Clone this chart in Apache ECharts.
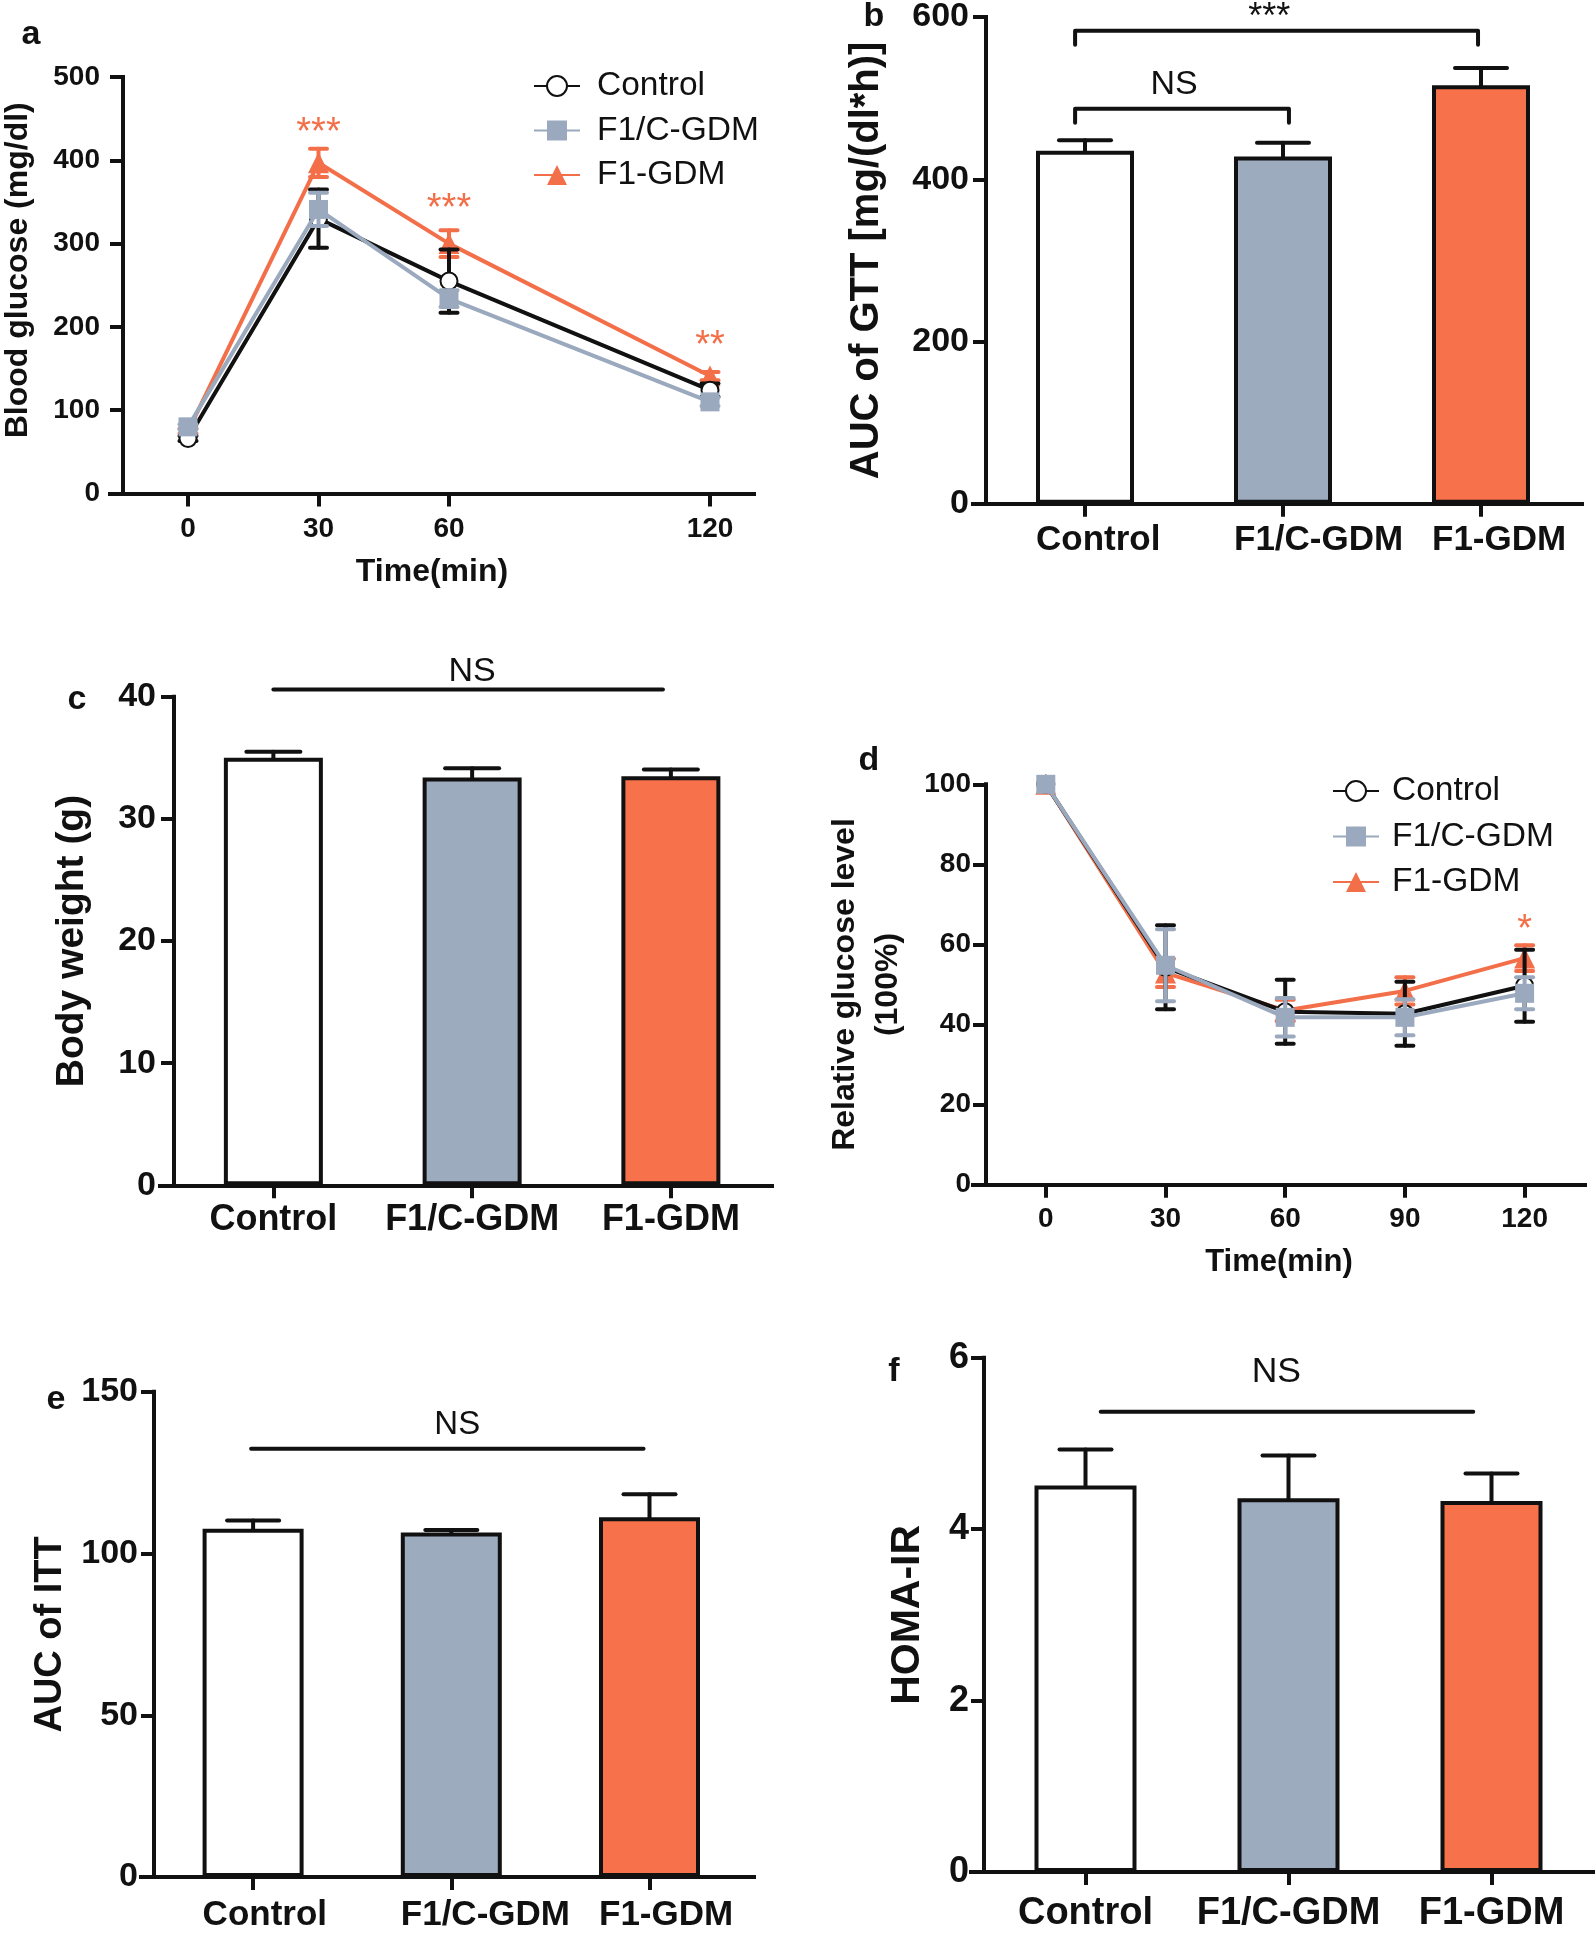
<!DOCTYPE html>
<html><head><meta charset="utf-8">
<script src="https://cdn.jsdelivr.net/npm/echarts@6/dist/echarts.min.js"></script>
<style>html,body{margin:0;padding:0;background:#fff}#c{width:1595px;height:1933px}</style>
</head><body><div id="c"></div>
<script>
// ================= DATA =================
const groupNames = ['Control', 'F1/C-GDM', 'F1-GDM'];
const catNames = ['Control', 'F1/C-GDM', 'F1-GDM'];

// (a) GTT
const gttTime = [0, 30, 60, 120];
const gttControl = [66, 330, 255, 124];
const gttControlErr = [3, 35, 38, 8];
const gttF1C = [80, 341, 234, 110];
const gttF1CErr = [3, 20, 10, 5];
const gttF1 = [75, 397, 300, 141];
const gttF1Err = [3, 17, 16, 5];
const gttSigTime = [30, 60, 120];
const gttSigLabel = ['***', '***', '**'];
const gttSigY = [442, 350, 186];

// (b) AUC of GTT   brackets: [from, to, line value, label x, label value]
const aucGtt = [435, 428, 516];
const aucGttErr = [13, 17, 21];
const aucGttBrackets = [[-0.05, 1.03, 487, 0.45, 517], [-0.05, 1.985, 583, 0.93, 609]];
const aucGttBracketLabels = ['NS', '***'];

// (c) Body weight
const bodyWeight = [35.0, 33.4, 33.5];
const bodyWeightErr = [0.5, 0.75, 0.55];
const bodyWeightLines = [[0, 1.96, 40.6, 1.0, 42.05]];

// (d) ITT
const ittTime = [0, 30, 60, 90, 120];
const ittControl = [100, 54.3, 43.2, 42.7, 49.7];
const ittControlErr = [0, 10.5, 8, 8, 9];
const ittF1C = [100, 54.8, 41.8, 41.8, 47.8];
const ittF1CErr = [0, 9, 4.8, 4.5, 4];
const ittF1 = [100, 52.9, 43.5, 48.4, 56.6];
const ittF1Err = [0, 3.5, 2.7, 3.4, 3.2];
const ittSigTime = [120];
const ittSigLabel = ['*'];
const ittSigY = [65.5];

// (e) AUC of ITT
const aucItt = [107.7, 106.5, 111.2];
const aucIttErr = [2.5, 0.8, 7.1];
const aucIttLines = [[-0.01, 1.97, 132.4, 1.03, 139.9]];

// (f) HOMA-IR
const homa = [4.51, 4.36, 4.33];
const homaErr = [0.42, 0.5, 0.32];
const homaLines = [[0.075, 1.91, 5.37, 0.94, 5.83]];

// ================= STYLE =================
const FONT = '"Liberation Sans", Arial, Helvetica, sans-serif';
const INK = '#111111';
const barColors = ['#FFFFFF', '#9DABBF', '#F7714B'];
const lineColors = ['#111111', '#9AA9BE', '#F36F49'];
const symbols = ['emptyCircle', 'rect', 'triangle'];
const symbolSizes = [17, 19, 21];

const option = {
  animation: false,
  backgroundColor: '#ffffff',
  grid: [], xAxis: [], yAxis: [], series: [], legend: [], graphic: []
};

function axisCommon(fs) {
  return {
    axisLine: { onZero: false, lineStyle: { color: INK, width: 4, cap: 'square' } },
    axisTick: { show: true, length: 13, lineStyle: { color: INK, width: 4 } },
    splitLine: { show: false },
    axisLabel: { color: INK, fontFamily: FONT, fontWeight: 'bold', fontSize: fs }
  };
}

function errRender(color, capW, both) {
  return function (params, api) {
    const x = api.value(0), m = api.value(1), e = api.value(2);
    if (!(e > 0)) return { type: 'group', children: [] };
    const t = api.coord([x, m + e]);
    const b = api.coord([x, both ? m - e : m]);
    const st = { stroke: color, lineWidth: 4, lineCap: 'round' };
    const ch = [
      { type: 'line', shape: { x1: t[0], y1: t[1], x2: b[0], y2: b[1] }, style: st },
      { type: 'line', shape: { x1: t[0] - capW / 2, y1: t[1], x2: t[0] + capW / 2, y2: t[1] }, style: st }
    ];
    if (both) ch.push({ type: 'line', shape: { x1: b[0] - capW / 2, y1: b[1], x2: b[0] + capW / 2, y2: b[1] }, style: st });
    return { type: 'group', children: ch };
  };
}

function bracketRender(labels, drop, fs) {
  return function (params, api) {
    const x1 = api.value(0), x2 = api.value(1), yl = api.value(2), xt = api.value(3), yt = api.value(4);
    const p1 = api.coord([x1, yl]), p2 = api.coord([x2, yl]);
    const pt = api.coord([xt, yt]);
    const lab = labels[params.dataIndex];
    const pts = drop > 0 ? [[p1[0], p1[1] + drop], p1, p2, [p2[0], p2[1] + drop]] : [p1, p2];
    return { type: 'group', children: [
      { type: 'polyline', shape: { points: pts }, style: { stroke: INK, lineWidth: 4, fill: null, lineCap: 'round', lineJoin: 'round' } },
      { type: 'text', x: pt[0], y: pt[1] + (lab.indexOf('*') >= 0 ? 8 : 0),
        style: { text: lab, fontSize: lab.indexOf('*') >= 0 ? fs + 2 : fs, fontFamily: FONT, fill: INK, align: 'center', verticalAlign: 'middle' } }
    ] };
  };
}

function starRender(labels, color, fs) {
  return function (params, api) {
    const p = api.coord([api.value(0), api.value(1)]);
    return { type: 'text', x: p[0], y: p[1] + 8,
      style: { text: labels[params.dataIndex], fontSize: fs, fontFamily: FONT, fill: color, align: 'center', verticalAlign: 'middle' } };
  };
}

// ----- line panel -----
function linePanel(cfg) {
  const gi = option.grid.length;
  option.grid.push({ left: cfg.left, top: cfg.top, width: cfg.right - cfg.left, height: cfg.bottom - cfg.top, containLabel: false });
  const xa = axisCommon(cfg.tickFs);
  xa.gridIndex = gi; xa.type = 'value';
  xa.min = (cfg.left - cfg.x0) / cfg.ppu; xa.max = (cfg.right - cfg.x0) / cfg.ppu;
  xa.axisTick.customValues = cfg.time;
  xa.axisLabel.customValues = cfg.time;
  xa.axisLabel.margin = cfg.xLabelMargin;
  xa.name = 'Time(min)'; xa.nameLocation = 'middle'; xa.nameGap = cfg.xNameGap;
  xa.nameTextStyle = { fontFamily: FONT, fontWeight: 'bold', fontSize: cfg.xNameFs, color: INK };
  option.xAxis.push(xa);
  const ya = axisCommon(cfg.tickFs);
  ya.gridIndex = gi; ya.type = 'value'; ya.min = 0; ya.max = cfg.yMax; ya.interval = cfg.yInt;
  ya.offset = -(cfg.axisX - cfg.left);
  ya.axisLabel.margin = cfg.yLabelMargin;
  ya.name = cfg.yName; ya.nameLocation = 'middle'; ya.nameGap = cfg.yNameGap;
  ya.nameTextStyle = { fontFamily: FONT, fontWeight: 'bold', fontSize: cfg.yNameFs, color: INK,
    lineHeight: cfg.yNameLh || cfg.yNameFs, padding: cfg.yNamePad || 0 };
  option.yAxis.push(ya);
  const order = [2, 0, 1];
  order.forEach(function (g, k) {
    const vals = cfg.series[g], errs = cfg.errs[g];
    option.series.push({
      type: 'custom', name: 'err-' + gi + '-' + g, xAxisIndex: gi, yAxisIndex: gi, z: 2 + k * 2, clip: false,
      encode: { x: 0, y: 1 }, renderItem: errRender(lineColors[g], 17, true),
      data: cfg.time.map(function (t, i) { return [t, vals[i], errs[i]]; })
    });
    option.series.push({
      type: 'line', name: groupNames[g], xAxisIndex: gi, yAxisIndex: gi, z: 3 + k * 2,
      symbol: symbols[g], symbolSize: symbolSizes[g], showAllSymbol: true,
      lineStyle: { color: lineColors[g], width: 4 },
      itemStyle: { color: g === 0 ? INK : lineColors[g], borderColor: lineColors[g], borderWidth: g === 0 ? 4 : 0 },
      emphasis: { disabled: true },
      data: cfg.time.map(function (t, i) { return [t, vals[i]]; })
    });
  });
  option.series.push({
    type: 'custom', name: 'sig-' + gi, xAxisIndex: gi, yAxisIndex: gi, z: 10, clip: false,
    encode: { x: 0, y: 1 }, renderItem: starRender(cfg.sigLabel, lineColors[2], cfg.sigFs),
    data: cfg.sigTime.map(function (t, i) { return [t, cfg.sigY[i]]; })
  });
  option.legend.push({
    orient: 'vertical', left: cfg.legendLeft, top: cfg.legendTop, itemWidth: 46, itemHeight: 25, itemGap: cfg.legendGap,
    data: groupNames.slice(), selectedMode: false,
    textStyle: { fontFamily: FONT, fontSize: cfg.legendFs, color: INK, padding: [0, 0, 0, cfg.legendPad] }
  });
}

// ----- bar panel -----
function barPanel(cfg) {
  const gi = option.grid.length;
  const left = cfg.axisX - cfg.stub;
  option.grid.push({ left: left, top: cfg.top, width: cfg.right - left, height: cfg.bottom - cfg.top, containLabel: false });
  const xa = axisCommon(cfg.catFs);
  xa.gridIndex = gi; xa.type = 'value';
  xa.min = -0.5 - cfg.stub / cfg.band; xa.max = -0.5 + (cfg.right - cfg.axisX) / cfg.band;
  xa.axisTick.customValues = [0, 1, 2];
  // labels either centred on the bar or starting at the bar's left edge
  const shift = cfg.labelAlign === 'left' ? cfg.barWidth / 2 / cfg.band : 0;
  xa.axisLabel.customValues = [0, 1, 2].map(function (i) { return i - shift; });
  xa.axisLabel.align = cfg.labelAlign || 'center';
  xa.axisLabel.formatter = function (v) { return catNames[Math.round(v + shift)]; };
  xa.axisLabel.margin = cfg.xLabelMargin;
  option.xAxis.push(xa);
  const ya = axisCommon(cfg.tickFs);
  ya.gridIndex = gi; ya.type = 'value'; ya.min = 0; ya.max = cfg.yMax; ya.interval = cfg.yInt;
  ya.offset = -cfg.stub;
  ya.axisLabel.margin = cfg.yLabelMargin;
  ya.name = cfg.yName; ya.nameLocation = 'middle'; ya.nameGap = cfg.yNameGap;
  ya.nameTextStyle = { fontFamily: FONT, fontWeight: 'bold', fontSize: cfg.yNameFs, color: INK };
  option.yAxis.push(ya);
  option.series.push({
    type: 'bar', name: 'bar-' + gi, xAxisIndex: gi, yAxisIndex: gi, barWidth: cfg.barWidth, z: 2,
    emphasis: { disabled: true },
    data: cfg.values.map(function (v, i) {
      return { value: [i, v], itemStyle: { color: barColors[i], borderColor: INK, borderWidth: 4 } };
    })
  });
  option.series.push({
    type: 'custom', name: 'barerr-' + gi, xAxisIndex: gi, yAxisIndex: gi, z: 3, clip: false,
    encode: { x: 0, y: 1 }, renderItem: errRender(INK, cfg.capW, false),
    data: cfg.values.map(function (v, i) { return [i, v, cfg.errs[i]]; })
  });
  option.series.push({
    type: 'custom', name: 'bracket-' + gi, xAxisIndex: gi, yAxisIndex: gi, z: 4, clip: false,
    encode: { x: 0, y: 2 }, renderItem: bracketRender(cfg.bracketLabels, cfg.drop, cfg.sigFs),
    data: cfg.brackets
  });
}

// (a)
linePanel({ left: 110, right: 754, top: 77, bottom: 493.5, x0: 188, ppu: 4.35, axisX: 123,
  time: gttTime, series: [gttControl, gttF1C, gttF1], errs: [gttControlErr, gttF1CErr, gttF1Err],
  yMax: 500, yInt: 100, tickFs: 28, xLabelMargin: 22, yLabelMargin: 23,
  xNameGap: 63, xNameFs: 32, yName: 'Blood glucose (mg/dl)', yNameGap: 89, yNameFs: 32, yNamePad: [0, 0, 0, 30],
  sigTime: gttSigTime, sigLabel: gttSigLabel, sigY: gttSigY, sigFs: 38,
  legendLeft: 528, legendTop: 64, legendGap: 10.5, legendFs: 33.5, legendPad: 12 });
// (b)
barPanel({ axisX: 986, stub: 13, band: 198, right: 1582, top: 15.4, bottom: 503.8,
  values: aucGtt, errs: aucGttErr, barWidth: 98, capW: 52, labelAlign: 'left',
  yMax: 600, yInt: 200, tickFs: 34, catFs: 35, xLabelMargin: 19, yLabelMargin: 17,
  yName: 'AUC of GTT [mg/(dl*h)]', yNameGap: 99, yNameFs: 40,
  brackets: aucGttBrackets, bracketLabels: aucGttBracketLabels, drop: 14, sigFs: 34 });
// (c)
barPanel({ axisX: 174, stub: 14, band: 198.75, right: 772, top: 696.8, bottom: 1185.3,
  values: bodyWeight, errs: bodyWeightErr, barWidth: 99, capW: 54, labelAlign: 'center',
  yMax: 40, yInt: 10, tickFs: 34, catFs: 36, xLabelMargin: 17, yLabelMargin: 18,
  yName: 'Body weight (g)', yNameGap: 82, yNameFs: 39,
  brackets: bodyWeightLines, bracketLabels: ['NS'], drop: 0, sigFs: 34 });
// (d)
linePanel({ left: 973, right: 1585, top: 784.3, bottom: 1184.7, x0: 1045.8, ppu: 3.99, axisX: 986,
  time: ittTime, series: [ittControl, ittF1C, ittF1], errs: [ittControlErr, ittF1CErr, ittF1Err],
  yMax: 100, yInt: 20, tickFs: 28, xLabelMargin: 21, yLabelMargin: 15,
  xNameGap: 62, xNameFs: 31, yName: 'Relative glucose level\n(100%)', yNameGap: 76, yNameFs: 32, yNameLh: 43,
  sigTime: ittSigTime, sigLabel: ittSigLabel, sigY: ittSigY, sigFs: 38,
  legendLeft: 1327, legendTop: 769, legendGap: 11.5, legendFs: 33.5, legendPad: 8 });
// (e)
barPanel({ axisX: 154, stub: 13, band: 198.2, right: 754, top: 1391.8, bottom: 1880.8,
  values: aucItt, errs: aucIttErr, barWidth: 101, capW: 52, labelAlign: 'left',
  yMax: 150, yInt: 50, tickFs: 34, catFs: 35, xLabelMargin: 21, yLabelMargin: 16,
  yName: 'AUC of ITT', yNameGap: 84, yNameFs: 38,
  brackets: aucIttLines, bracketLabels: ['NS'], drop: 0, sigFs: 33 });
// (f)
barPanel({ axisX: 984, stub: 13, band: 203, right: 1595, top: 1357.8, bottom: 1878.9,
  values: homa, errs: homaErr, barWidth: 102, capW: 52, labelAlign: 'center',
  yMax: 6, yInt: 2, tickFs: 36, catFs: 38, xLabelMargin: 23, yLabelMargin: 15,
  yName: 'HOMA-IR', yNameGap: 56, yNameFs: 41,
  brackets: homaLines, bracketLabels: ['NS'], drop: 0, sigFs: 35.5 });

// panel letters
const panelLetters = [['a', 31, 35], ['b', 874, 17], ['c', 77, 700], ['d', 869, 761], ['e', 56, 1400], ['f', 894, 1372]];
panelLetters.forEach(function (p) {
  option.graphic.push({ type: 'text', x: p[1], y: p[2], z: 100,
    style: { text: p[0], fontFamily: FONT, fontWeight: 'bold', fontSize: 34, fill: INK, align: 'center', verticalAlign: 'middle' } });
});

const chart = echarts.init(document.getElementById('c'), null, { renderer: 'canvas' });
chart.setOption(option);
</script>
</body></html>
